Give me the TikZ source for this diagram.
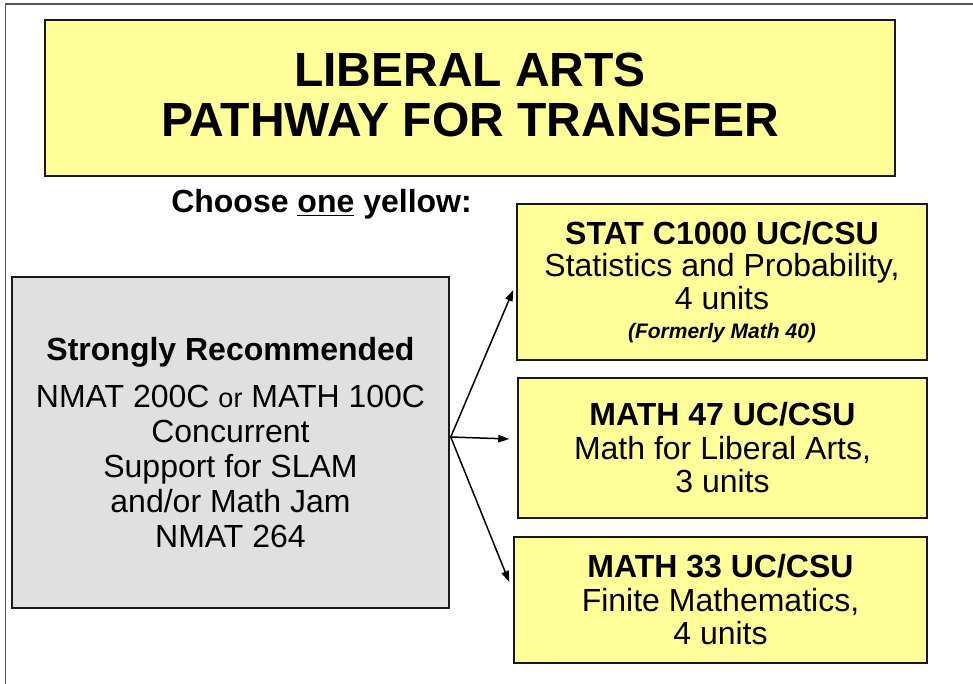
\documentclass[tikz,border=0pt]{standalone}
\usepackage{fontspec}
\setmainfont{Liberation Sans}
\usetikzlibrary{arrows.meta,shadows,calc}
\definecolor{boxyellow}{HTML}{FFFF99}
\definecolor{boxgray}{HTML}{E0E0E0}
\definecolor{framegray}{HTML}{555555}
\begin{document}
\begin{tikzpicture}[x=1pt,y=-1pt,
  box/.style={draw=black!90, line width=1.5pt, rectangle, inner sep=0pt, align=center,
    drop shadow={shadow xshift=1.2pt, shadow yshift=-1.2pt, fill=black!80, opacity=1}},
  ybox/.style={box, fill=boxyellow},
  gbox/.style={box, fill=boxgray},
  arr/.style={line width=1.5pt, -{Triangle[length=11pt,width=7.5pt]}},
  frame/.style={draw=framegray, line width=1.5pt}]
\useasboundingbox (0,0) rectangle (973,684);
\draw[frame] (5.5,684) -- (5.5,4) -- (973,4);

\node[ybox, minimum width=850pt, minimum height=156pt, text depth=6pt,
  font=\fontsize{48}{50}\selectfont\bfseries] (title) at (470,98)
  {LIBERAL ARTS\\PATHWAY FOR TRANSFER};

\node[anchor=base, inner sep=0pt, font=\fontsize{32}{36}\selectfont\bfseries] (choose) at (321.5,213)
  {Choose \underline{one} yellow:};

\node[gbox, minimum width=437pt, minimum height=331pt,
  font=\fontsize{32}{35}\selectfont] (rec) at (230.5,442.5)
  {{\bfseries Strongly Recommended}\\[12pt]
   NMAT 200C {\fontsize{27}{35}\selectfont or} MATH 100C\\
   Concurrent\\Support for SLAM\\and/or Math Jam\\NMAT 264};

\node[ybox, minimum width=410pt, minimum height=156pt,
  font=\fontsize{32}{32.5}\selectfont] (stat) at (722,282)
  {{\bfseries STAT C1000 UC/CSU}\\Statistics and Probability,\\4 units\\[-3pt]
   {\fontsize{21}{24}\selectfont\bfseries\itshape (Formerly Math 40)}};

\node[ybox, minimum width=409pt, minimum height=140pt,
  font=\fontsize{32}{33.5}\selectfont] (m47) at (722.5,448)
  {{\bfseries MATH 47 UC/CSU}\\Math for Liberal Arts,\\3 units};

\node[ybox, minimum width=413pt, minimum height=126pt,
  font=\fontsize{32}{33.5}\selectfont] (m33) at (720.5,600)
  {{\bfseries MATH 33 UC/CSU}\\Finite Mathematics,\\4 units};

\coordinate (src) at ($(rec.east)+(1,-5.5)$);
\coordinate (t1) at ($(stat.west)+(-3,8)$);
\coordinate (t2) at ($(m47.west)+(-8,-9)$);
\coordinate (t3) at ($(m33.west)+(-4,-18)$);
\draw[arr] (src) -- (t1);
\draw[arr] (src) -- (t2);
\draw[arr] (src) -- (t3);
\end{tikzpicture}
\end{document}
